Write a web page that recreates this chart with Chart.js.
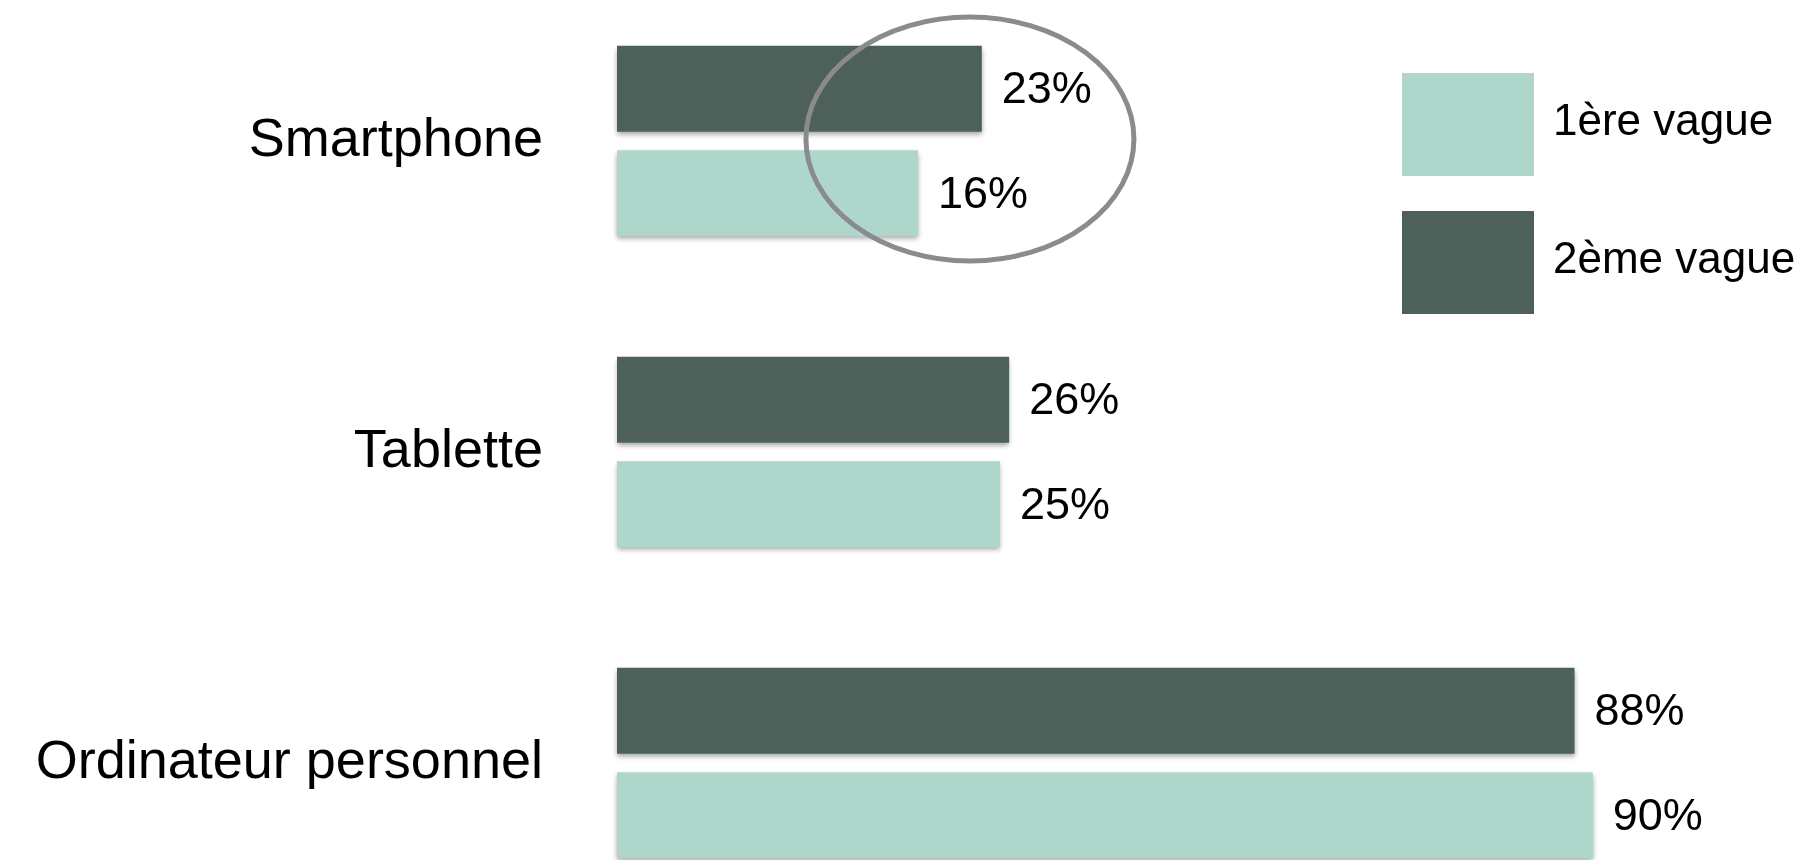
<!DOCTYPE html>
<html lang="fr">
<head>
<meta charset="utf-8">
<title>Équipement utilisé</title>
<script src="https://cdn.jsdelivr.net/npm/chart.js@4.4.0/dist/chart.umd.min.js"></script>
<style>
  html, body { margin: 0; padding: 0; background: #fff; }
  #wrap { width: 1808px; height: 860px; position: relative; }
</style>
</head>
<body>
<div id="wrap"><canvas id="myChart"></canvas></div>
<script>
const categories = ["Smartphone", "Tablette", "Ordinateur personnel"];
const seriesNames = ["1ère vague", "2ème vague"];
const vague1 = [16, 25, 90];
const vague2 = [23, 26, 88];

const LIGHT = "#afd6cb";
const DARK = "#4e605a";
const FONT = "'Liberation Sans', Arial, Helvetica, sans-serif";
// bars grow from the left edge of the plot, not from a zero line
const AXIS_START = -17;

// soft drop shadow under every bar
const barShadow = {
  id: "barShadow",
  beforeDatasetsDraw(chart) {
    const ctx = chart.ctx;
    ctx.save();
    ctx.shadowColor = "rgba(0, 0, 0, 0.35)";
    ctx.shadowBlur = 5;
    ctx.shadowOffsetX = 0;
    ctx.shadowOffsetY = 3;
  },
  afterDatasetsDraw(chart) {
    chart.ctx.restore();
  },
};

// "23%" style labels at the end of each bar
const valueLabels = {
  id: "valueLabels",
  afterDraw(chart) {
    const ctx = chart.ctx;
    ctx.save();
    ctx.font = "45px " + FONT;
    ctx.fillStyle = "#000";
    ctx.textAlign = "left";
    ctx.textBaseline = "middle";
    chart.data.datasets.forEach((ds, i) => {
      chart.getDatasetMeta(i).data.forEach((bar, j) => {
        ctx.fillText(ds.data[j] + "%", bar.x + 20, bar.y + 2);
      });
    });
    ctx.restore();
  },
};

// grey ring drawn round one category
const highlight = {
  id: "highlight",
  afterDraw(chart, args, opts) {
    const ctx = chart.ctx;
    const cx = chart.scales.x.getPixelForValue(opts.value);
    const cy = chart.scales.y.getPixelForValue(categories.indexOf(opts.category)) + opts.shiftY;
    ctx.save();
    ctx.strokeStyle = opts.color;
    ctx.lineWidth = opts.width;
    ctx.beginPath();
    ctx.ellipse(cx, cy, opts.rx, opts.ry, 0, 0, Math.PI * 2);
    ctx.stroke();
    ctx.restore();
  },
};

// legend with big square swatches in the top right corner
const sideLegend = {
  id: "sideLegend",
  afterDraw(chart, args, opts) {
    const ctx = chart.ctx;
    const items = chart.data.datasets.slice().reverse();
    ctx.save();
    ctx.font = opts.fontSize + "px " + FONT;
    ctx.textBaseline = "middle";
    items.forEach((ds, i) => {
      const top = opts.top + i * opts.step;
      ctx.fillStyle = ds.backgroundColor;
      ctx.fillRect(opts.left, top, opts.boxWidth, opts.boxHeight);
      ctx.fillStyle = "#000";
      ctx.fillText(ds.label, opts.left + opts.boxWidth + 19, top + opts.boxHeight / 2 - 2);
    });
    ctx.restore();
  },
};

window.addEventListener("load", function () {
  const ctx = document.getElementById("myChart").getContext("2d");

  new Chart(ctx, {
    type: "bar",
    data: {
      labels: categories,
      datasets: [
        {
          label: seriesNames[1],
          data: vague2,
          backgroundColor: DARK,
        },
        {
          label: seriesNames[0],
          data: vague1,
          backgroundColor: LIGHT,
        },
      ],
    },
    options: {
      indexAxis: "y",
      responsive: true,
      maintainAspectRatio: false,
      animation: false,
      datasets: {
        bar: {
          base: AXIS_START,
          clip: false,
          borderWidth: 0,
          categoryPercentage: 0.672,
          barPercentage: 0.825,
        },
      },
      layout: {
        padding: { top: 141, bottom: 97, left: 0, right: 124 },
      },
      scales: {
        x: {
          type: "linear",
          display: false,
          min: AXIS_START,
          max: 100,
        },
        y: {
          type: "category",
          offset: false,
          grid: { display: false, drawTicks: false },
          border: { display: false },
          ticks: {
            color: "#000",
            padding: 74,
            font: { family: FONT, size: 54 },
          },
          afterFit(scale) {
            // fixed gutter for the category names, no extra room above/below
            scale.width = 617;
            scale.paddingTop = 0;
            scale.paddingBottom = 0;
          },
        },
      },
      plugins: {
        legend: { display: false },
        tooltip: { enabled: false },
        highlight: {
          category: "Smartphone",
          value: 21.7,
          shiftY: -2,
          rx: 164,
          ry: 122,
          color: "#898b8f",
          width: 5,
        },
        sideLegend: {
          left: 1402,
          top: 73,
          step: 138,
          boxWidth: 132,
          boxHeight: 103,
          fontSize: 44,
        },
      },
    },
    plugins: [barShadow, valueLabels, highlight, sideLegend],
  });
});
</script>
</body>
</html>
